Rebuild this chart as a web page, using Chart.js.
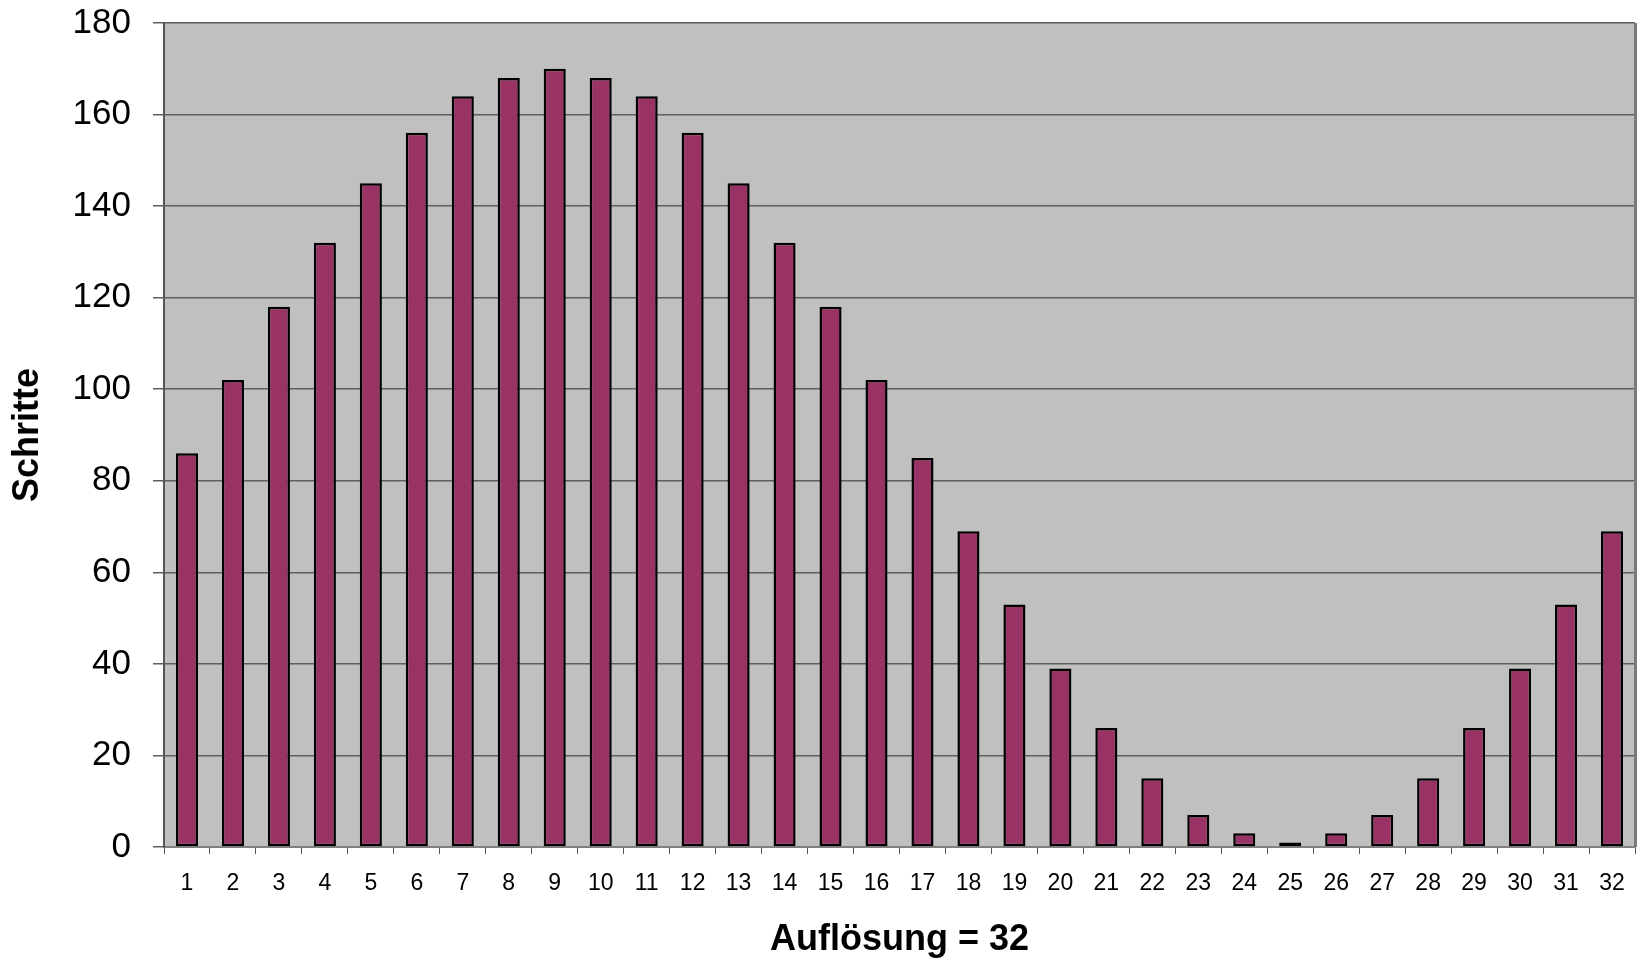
<!DOCTYPE html>
<html lang="de">
<head>
<meta charset="utf-8">
<title>Schritte – Auflösung 32</title>
<script src="https://cdn.jsdelivr.net/npm/chart.js@4/dist/chart.umd.min.js"></script>
<style>
    html, body { margin: 0; padding: 0; background: #ffffff; }
    #wrap { width: 1641px; height: 962px; position: relative; }
</style>
</head>
<body>
<div id="wrap"><canvas id="balkenChart"></canvas></div>
<script>
/* ==============================================
    DATEN
   ============================================== */
const kategorien = ['1', '2', '3', '4', '5', '6', '7', '8', '9', '10', '11', '12', '13', '14', '15', '16',
                    '17', '18', '19', '20', '21', '22', '23', '24', '25', '26', '27', '28', '29', '30', '31', '32'];
const schritte = [86, 102, 118, 132, 145, 156, 164, 168, 170, 168, 164, 156, 145, 132, 118, 102,
                  85, 69, 53, 39, 26, 15, 7, 3, 1, 3, 7, 15, 26, 39, 53, 69];
const yMin = 0;
const yMax = 180;
const ySchritt = 20;

/* ==============================================
    PLOT-HINTERGRUND (grau wie im Original)
   ============================================== */
const plotHintergrund = {
    id: 'plotHintergrund',
    beforeDraw(chart) {
        const { ctx, chartArea: a } = chart;
        ctx.save();
        ctx.fillStyle = '#c0c0c0';
        ctx.fillRect(a.left, a.top, a.right - a.left, a.bottom - a.top);
        ctx.restore();
    },
    afterDraw(chart) {
        const { ctx, chartArea: a } = chart;
        ctx.save();
        // rechter Rand dunkler
        ctx.strokeStyle = '#7a7a7a';
        ctx.lineWidth = 3;
        ctx.beginPath();
        ctx.moveTo(a.right + 0.5, a.top);
        ctx.lineTo(a.right + 0.5, a.bottom);
        ctx.stroke();
        ctx.restore();
    }
};

/* ==============================================
    DIAGRAMM
   ============================================== */
function zeichneDiagramm() {
    const ctx = document.getElementById('balkenChart').getContext('2d');
    new Chart(ctx, {
        type: 'bar',
        data: {
            labels: kategorien,
            datasets: [{
                label: 'Schritte',
                data: schritte,
                backgroundColor: '#993366',
                borderColor: '#000000',
                borderWidth: 2.5,
                borderSkipped: false,
                barPercentage: 0.48,
                categoryPercentage: 1.0
            }]
        },
        options: {
            responsive: true,
            maintainAspectRatio: false,
            animation: false,
            layout: { padding: { top: 23, right: 6, bottom: 0, left: 0 } },
            plugins: { legend: { display: false }, tooltip: { enabled: false } },
            scales: {
                x: {
                    grid: { drawOnChartArea: false, drawTicks: true, tickLength: 7, color: '#555555', lineWidth: 1 },
                    border: { color: '#808080', width: 2 },
                    ticks: { font: { family: 'Liberation Sans', size: 23 }, color: '#000000', padding: 16, maxRotation: 0, autoSkip: false },
                    title: {
                        display: true,
                        text: 'Auflösung = 32',
                        font: { family: 'Liberation Sans', size: 36, weight: 'bold' },
                        color: '#000000',
                        padding: { top: 0, bottom: 0 }
                    },
                    afterFit: (s) => { s.height = 115; s.paddingLeft = 0; s.paddingRight = 0; }
                },
                y: {
                    min: yMin,
                    max: yMax,
                    ticks: { stepSize: ySchritt, font: { family: 'Liberation Sans', size: 35 }, color: '#000000', padding: 22 },
                    grid: { color: '#5f5f5f', lineWidth: 1.5, tickLength: 11 },
                    border: { color: '#555555', width: 2 },
                    title: {
                        display: true,
                        text: 'Schritte',
                        font: { family: 'Liberation Sans', size: 36, weight: 'bold' },
                        color: '#000000',
                        padding: { top: 6, bottom: 0 }
                    },
                    afterFit: (s) => { s.width = 164; s.paddingTop = 0; s.paddingBottom = 0; }
                }
            }
        },
        plugins: [plotHintergrund]
    });
}

window.onload = () => {
    zeichneDiagramm();
};
</script>
</body>
</html>
